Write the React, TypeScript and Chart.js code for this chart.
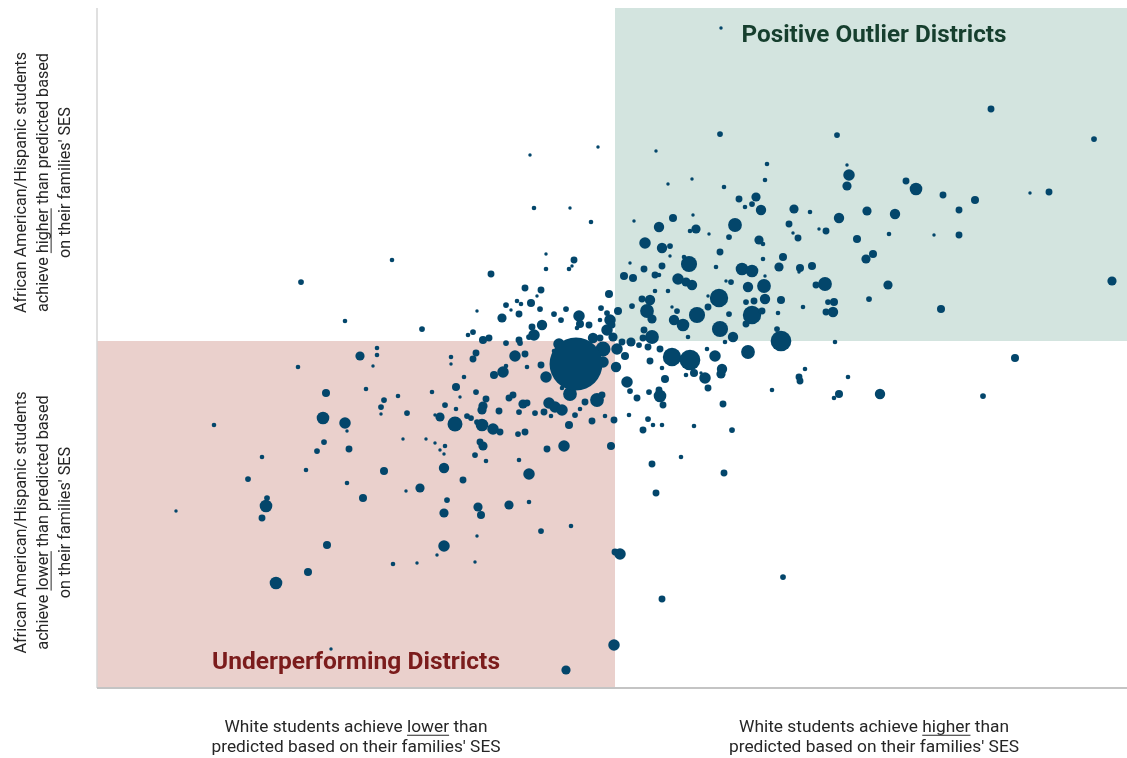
import React, { useEffect, useRef } from "react";
import { Chart, registerables } from "chart.js";

Chart.register(...registerables);

// [white-student gap, minority-student gap, bubble size]
type Pt = [number, number, number];

const X_RANGE = [-518, 512];
const Y_RANGE = [-347, 333];

const quadrantTitles = ["Positive Outlier Districts", "Underperforming Districts"];
const titleColors = ["#163f2e", "#7b1c1c"];
const quadrantFills = ["#d3e4df", "#ead0cc"];
const bubbleColor = "#03466b";

// label lines: [text, underlined]
type Seg = [string, boolean];
const xLabelLow: Seg[][] = [
  [["White students achieve ", false], ["lower", true], [" than", false]],
  [["predicted based on their families' SES", false]],
];
const xLabelHigh: Seg[][] = [
  [["White students achieve ", false], ["higher", true], [" than", false]],
  [["predicted based on their families' SES", false]],
];
const yLabelHigh: Seg[][] = [
  [["African American/Hispanic students", false]],
  [["achieve ", false], ["higher", true], [" than predicted based", false]],
  [["on their families' SES", false]],
];
const yLabelLow: Seg[][] = [
  [["African American/Hispanic students", false]],
  [["achieve ", false], ["lower", true], [" than predicted based", false]],
  [["on their families' SES", false]],
];

const farLeft: Pt[] = [
  [-314, 59, 2.5], [-223, 81, 2], [-270, 20, 2], [-193, 12, 2.5], [-147, 6, 2],
  [-142, 9, 2.5], [-138, 30, 1.5], [-238, -7, 2], [-255, -15, 4], [-238, -14, 2],
  [-242, -25, 1.5], [-317, -26, 2], [-164, -16, 2], [-164, -23, 1.5], [-142, -18, 3],
  [-151, -36, 2], [-289, -52, 3.5], [-249, -48, 2], [-231, -59, 2.5], [-234, -66, 2.5],
  [-234, -73, 1.5], [-217, -55, 2], [-208, -72, 2.5], [-183, -51, 2], [-159, -46, 3.5],
  [-155, -56, 1.5], [-170, -64, 2.5], [-159, -68, 2], [-175, -76, 4], [-180, -74, 1.5],
  [-160, -83, 6.5], [-148, -75, 2.5], [-144, -77, 2.5], [-139, -51, 2.5], [-292, -77, 5.5],
  [-270, -82, 5], [-268, -90, 1.5], [-401, -84, 2], [-291, -101, 2.5], [-298, -110, 2.5],
  [-266, -108, 3], [-212, -98, 1.5], [-189, -98, 1.5], [-180, -102, 1.5], [-170, -105, 2],
  [-175, -109, 1.5], [-171, -113, 1.5], [-140, -114, 2.5], [-353, -116, 2], [-367, -138, 2.5],
  [-309, -129, 2], [-268, -142, 2], [-231, -130, 3.5], [-171, -127, 4.5], [-152, -139, 3],
  [-195, -147, 4], [-209, -150, 1.5], [-252, -157, 3.5], [-348, -157, 2.5], [-349, -165, 5.5],
  [-353, -177, 3], [-439, -170, 1.5], [-168, -159, 2.5], [-171, -172, 4], [-137, -166, 4],
  [-134, -174, 3.5], [-288, -204, 3.5], [-171, -205, 5], [-178, -214, 1.5], [-222, -223, 2],
  [-198, -222, 1.5], [-140, -221, 1.5], [-138, -195, 1.5], [-307, -231, 3.5], [-339, -242, 5.5],
  [-284, -308, 1.5],
];

const nearCenter: Pt[] = [
  [-139, -12, 3], [-121, -34, 3.5], [-112, -31, 5], [-100, -15, 5], [-90, -13, 3],
  [-88, -26, 2], [-109, -25, 2], [-74, -24, 3], [-69, -36, 5], [-61, -10, 2],
  [-56, -3, 5], [-38, -2, 4], [-22, 3, 4.5], [-12, -8, 6.5], [-12, -21, 5],
  [-2, 4, 4], [1, -26, 4.5], [-53, -47, 2], [-45, -53, 6], [-18, -59, 6],
  [-13, -54, 3], [-30, -61, 3], [-35, -68, 2], [-40, -74, 2.5], [-23, -80, 3],
  [-10, -75, 2], [-1, -79, 3], [-46, -84, 3.5], [-51, -105, 5], [-4, -105, 3.5],
  [-68, -108, 3], [-86, -133, 5], [-96, -119, 2], [-90, -91, 3], [-97, -93, 2.5],
  [-66, -62, 5], [-60, -66, 5], [-53, -69, 5], [-71, -71, 3], [-80, -72, 2.5],
  [-64, -75, 2], [-96, -71, 2.5], [-92, -63, 4], [-88, -62, 3], [-106, -57, 3],
  [-102, -54, 3], [-116, -70, 3], [-129, -58, 3], [-132, -65, 4], [-133, -69, 4],
  [-138, -81, 2.5], [-133, -84, 5.5], [-122, -88, 5], [-115, -91, 3], [-135, -101, 3],
  [-132, -105, 4], [-129, -120, 2], [-106, -164, 4], [-86, -161, 2], [-74, -190, 2.5],
  [-44, -185, 2], [-39, -23, 23], [5, -213, 5], [0, -211, 3], [-1, -304, 5],
  [-49, -329, 4],
];

const upperLeft: Pt[] = [
  [-17, 194, 1.5], [-85, 186, 1.5], [-81, 133, 2], [-45, 133, 1.5], [-24, 119, 2],
  [-69, 87, 1.5], [-41, 81, 3], [-46, 72, 2], [-43, 75, 1.5], [-69, 72, 2],
  [-124, 67, 3], [-90, 53, 3], [-74, 51, 3], [-78, 45, 1.5], [-84, 38, 3.5],
  [-75, 32, 2.5], [-98, 40, 2], [-94, 37, 2], [-109, 36, 2.5], [-104, 31, 1.5],
  [-96, 27, 3], [-113, 23, 4], [-132, 1, 3.5], [-126, 3, 3], [-109, -2, 2.5],
  [-96, 1, 3], [-95, -2, 2.5], [-83, 14, 3], [-81, 6, 5], [-73, 16, 4.5],
  [-86, 4, 2.5], [-15, 3, 3], [-6, 47, 3.5], [-8, 28, 2.5], [-5, 21, 5],
  [-14, 33, 2.5], [-15, 21, 2], [-8, 11, 5], [-49, 32, 2.5], [-36, 25, 5],
  [-61, 27, 2.5], [-54, 21, 2.5], [-35, 17, 3.5], [-26, 16, 3], [-38, 13, 2],
  [-3, 16, 3], [3, 30, 3.5],
];

const upperRight: Pt[] = [
  [106, 313, 1.5], [105, 207, 2.5], [41, 190, 1.5], [152, 177, 2], [150, 161, 2],
  [53, 157, 1.5], [77, 162, 1.5], [109, 154, 2], [124, 142, 3], [130, 134, 2],
  [137, 137, 2.5], [141, 144, 4], [146, 131, 4.5], [179, 132, 4], [174, 117, 3],
  [178, 108, 1.5], [183, 103, 3], [19, 120, 1.5], [44, 114, 4.5], [58, 123, 3.5],
  [78, 126, 1.5], [81, 112, 4], [75, 110, 2], [94, 107, 1.5], [120, 116, 6],
  [114, 104, 2.5], [144, 101, 4], [148, 97, 2], [30, 98, 5], [47, 93, 4.5],
  [55, 95, 2.5], [55, 85, 1.5], [105, 89, 3], [74, 77, 7], [69, 84, 2],
  [47, 75, 3], [29, 72, 3], [15, 78, 1.5], [9, 65, 3.5], [18, 63, 3.5],
  [40, 66, 3], [44, 66, 2], [63, 62, 5], [71, 59, 4], [77, 56, 4.5],
  [101, 74, 2], [127, 72, 5.5], [137, 70, 5.5], [148, 82, 2], [168, 84, 3.5],
  [164, 74, 4], [150, 65, 1.5], [149, 55, 6], [133, 54, 4.5], [111, 60, 1.5],
  [116, 59, 2.5], [104, 43, 8], [93, 45, 1.5], [93, 34, 3], [150, 42, 4.5],
  [131, 39, 2.5], [139, 40, 3], [166, 41, 3.5], [137, 26, 8], [147, 30, 3],
  [131, 17, 3], [163, 28, 2], [162, 12, 2.5], [166, 0, 9], [82, 26, 7],
  [105, 12, 7], [118, 4, 4.5], [114, 27, 2.5], [73, 4, 2], [110, -1, 2],
  [59, 21, 4.5], [68, 16, 5.5], [62, 30, 2.5], [57, 34, 1.5], [53, 50, 2],
  [40, 50, 2], [35, 41, 4.5], [32, 30, 6], [37, 22, 4], [27, 42, 3],
  [17, 35, 2.5], [29, 11, 3], [37, 4, 6], [33, -6, 3], [16, -1, 4],
  [24, -4, 2.5], [376, 232, 3], [479, 202, 2.5], [222, 206, 2.5], [232, 176, 1.5],
  [234, 166, 5], [232, 155, 4], [291, 160, 3], [301, 152, 5.5], [328, 146, 3],
  [360, 141, 3.5], [344, 131, 3], [415, 148, 1.5], [434, 149, 3], [195, 129, 2],
  [224, 123, 4.5], [252, 130, 4], [280, 127, 4.5], [204, 112, 1.5], [211, 110, 3],
  [242, 102, 3.5], [274, 107, 2], [319, 106, 1.5], [344, 106, 3], [251, 82, 4],
  [258, 87, 3.5], [197, 75, 3.5], [185, 73, 3.5], [184, 69, 1.5], [210, 57, 6],
  [201, 56, 3], [273, 56, 4], [188, 34, 2], [213, 39, 2.5], [219, 39, 3.5],
  [211, 29, 3], [218, 29, 4.5], [254, 42, 2.5], [326, 32, 3.5], [497, 60, 4],
  [220, -1, 2],
];

const lowerRight: Pt[] = [
  [2, -8, 5], [10, -15, 3.5], [12, -41, 5], [15, -50, 2.5], [22, -57, 3],
  [14, -74, 2], [45, -8, 3], [35, -20, 3], [47, -27, 2], [50, -38, 3.5],
  [57, -16, 8], [75, -19, 9], [71, -34, 2], [79, -32, 3.5], [86, -32, 1.5],
  [90, -37, 5], [93, -47, 3], [100, -15, 5], [107, -28, 4.5], [106, -33, 4],
  [92, -8, 2], [133, -11, 6], [157, -49, 2], [108, -63, 3], [117, -89, 2.5],
  [44, -49, 3], [45, -55, 5.5], [48, -64, 3], [34, -51, 2.5], [33, -78, 2.5],
  [38, -84, 2], [47, -84, 2], [28, -89, 3], [79, -85, 2], [66, -116, 2],
  [37, -123, 3], [109, -132, 3], [41, -152, 3], [168, -236, 2.5], [47, -258, 3],
  [184, -36, 3], [185, -40, 3], [190, -28, 2], [233, -36, 2], [224, -53, 3.5],
  [219, -57, 2], [265, -53, 4.5], [368, -55, 2.5], [400, -17, 3.5], [7, -1, 3],
  [28, 3, 3],
];

const allDistricts: Pt[] = [...farLeft, ...nearCenter, ...upperLeft, ...upperRight, ...lowerRight];

const LABEL_FONT = "'Liberation Sans Narrow', 'Arial Narrow', Roboto, sans-serif";
const TITLE_FONT = "Roboto, 'Liberation Sans', sans-serif";

function drawRichBlock(
  ctx: CanvasRenderingContext2D,
  lines: Seg[][],
  cx: number,
  cy: number,
  firstLineWidth: number,
  fontSize: number,
  lineGap: number,
  rotate: boolean
) {
  ctx.save();
  ctx.translate(cx, cy);
  if (rotate) ctx.rotate(-Math.PI / 2);
  ctx.font = `${fontSize}px ${LABEL_FONT}`;
  ctx.fillStyle = "#262626";
  ctx.strokeStyle = "#262626";
  ctx.textBaseline = "middle";
  ctx.textAlign = "left";
  const first = lines[0].map((s) => s[0]).join("");
  const s = firstLineWidth / ctx.measureText(first).width;
  const total = (lines.length - 1) * lineGap;
  lines.forEach((line, i) => {
    const y = -total / 2 + i * lineGap;
    const full = line.map((q) => q[0]).join("");
    const w = ctx.measureText(full).width;
    ctx.save();
    ctx.scale(s, 1);
    let x = -w / 2;
    for (const [t, u] of line) {
      const tw = ctx.measureText(t).width;
      ctx.fillText(t, x, y);
      if (u) {
        ctx.lineWidth = 1;
        ctx.beginPath();
        ctx.moveTo(x, y + fontSize * 0.42);
        ctx.lineTo(x + tw, y + fontSize * 0.42);
        ctx.stroke();
      }
      x += tw;
    }
    ctx.restore();
  });
  ctx.restore();
}

function drawTitle(ctx: CanvasRenderingContext2D, text: string, cx: number, cy: number, width: number, color: string) {
  ctx.save();
  ctx.font = `bold 24px ${TITLE_FONT}`;
  ctx.fillStyle = color;
  ctx.textBaseline = "middle";
  ctx.textAlign = "center";
  const s = width / ctx.measureText(text).width;
  ctx.translate(cx, cy);
  ctx.scale(s, 1);
  ctx.fillText(text, 0, 0);
  ctx.restore();
}

const quadrantPlugin = {
  id: "quadrants",
  beforeDatasetsDraw(chart: any) {
    const { ctx, chartArea, scales } = chart;
    const mx = scales.x.getPixelForValue(0);
    const my = scales.y.getPixelForValue(0);
    ctx.save();
    ctx.fillStyle = quadrantFills[0];
    ctx.fillRect(mx, chartArea.top, chartArea.right - mx, my - chartArea.top);
    ctx.fillStyle = quadrantFills[1];
    ctx.fillRect(chartArea.left, my, mx - chartArea.left, chartArea.bottom - my);
    ctx.restore();
  },
  afterDatasetsDraw(chart: any) {
    const { ctx, chartArea, scales } = chart;
    const mx = scales.x.getPixelForValue(0);
    const my = scales.y.getPixelForValue(0);
    ctx.save();
    ctx.strokeStyle = "#d6d6d6";
    ctx.lineWidth = 1.5;
    ctx.beginPath();
    ctx.moveTo(chartArea.left, chartArea.top);
    ctx.lineTo(chartArea.left, chartArea.bottom);
    ctx.stroke();
    ctx.strokeStyle = "#c4c4c4";
    ctx.lineWidth = 2;
    ctx.beginPath();
    ctx.moveTo(chartArea.left, chartArea.bottom);
    ctx.lineTo(chartArea.right, chartArea.bottom);
    ctx.stroke();
    ctx.restore();

    const leftMid = (chartArea.left + mx) / 2;
    const rightMid = (mx + chartArea.right) / 2;
    drawTitle(ctx, quadrantTitles[0], rightMid + 3, chartArea.top + 28, 265, titleColors[0]);
    drawTitle(ctx, quadrantTitles[1], leftMid, chartArea.bottom - 25, 288, titleColors[1]);

    drawRichBlock(ctx, xLabelLow, leftMid, chartArea.bottom + 50, 263, 17, 20, false);
    drawRichBlock(ctx, xLabelHigh, rightMid + 3, chartArea.bottom + 50, 270, 17, 20, false);

    const upperMid = (chartArea.top + my) / 2 + 8;
    const lowerMid = (my + chartArea.bottom) / 2 + 8;
    drawRichBlock(ctx, yLabelHigh, 44, upperMid, 261, 17, 22, true);
    drawRichBlock(ctx, yLabelLow, 44, lowerMid, 262, 17, 22, true);
  },
};

export default function App() {
  const ref = useRef<HTMLCanvasElement | null>(null);

  useEffect(() => {
    if (!ref.current) return;
    const chart = new Chart(ref.current, {
      type: "bubble",
      data: {
        datasets: [
          {
            data: allDistricts.map(([x, y, r]) => ({ x, y, r: r * 1.15 })),
            backgroundColor: bubbleColor,
            borderWidth: 0,
            hoverRadius: 0,
          },
        ],
      },
      options: {
        responsive: false,
        animation: false,
        layout: { autoPadding: false, padding: { left: 97, right: 0, top: 8, bottom: 70 } },
        scales: {
          x: { type: "linear", min: X_RANGE[0], max: X_RANGE[1], display: false },
          y: { type: "linear", min: Y_RANGE[0], max: Y_RANGE[1], display: false },
        },
        plugins: { legend: { display: false }, tooltip: { enabled: false } },
      },
      plugins: [quadrantPlugin],
    });
    return () => chart.destroy();
  }, []);

  return (
    <div style={{ position: "absolute", left: 0, top: 0, width: 1127, height: 758, background: "#fff" }}>
      <canvas ref={ref} width={1127} height={758} style={{ display: "block" }} />
    </div>
  );
}
